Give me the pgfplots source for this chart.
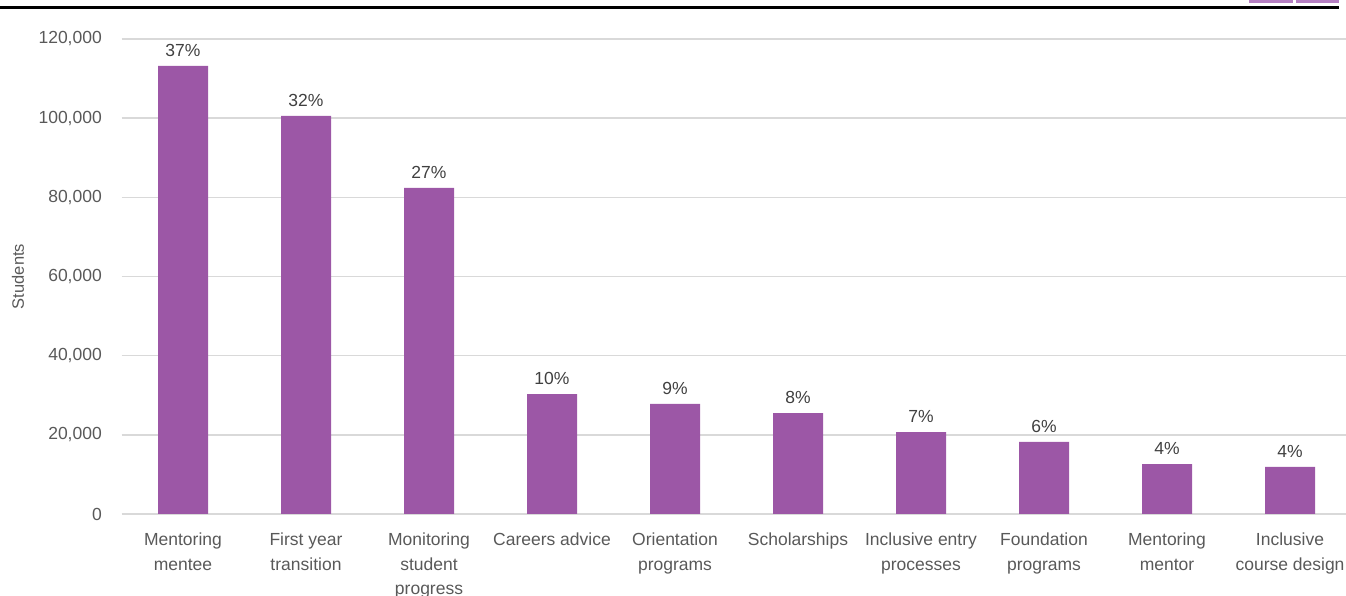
\documentclass[border=0pt]{standalone}
\usepackage{fontspec}
\setmainfont{Liberation Sans}
\usepackage{pgfplots}
\pgfplotsset{compat=1.18}
\definecolor{barpurple}{HTML}{9C57A6}
\definecolor{tabpurple}{HTML}{B57FC2}
\definecolor{ticktext}{HTML}{595959}
\definecolor{valtext}{HTML}{404040}
\definecolor{gridgrey}{HTML}{D9D9D9}

\begin{document}
\begin{tikzpicture}[x=1pt,y=1pt]
\useasboundingbox (0,0) rectangle (1346,596);
% frame line and tabs along the top edge
\fill[black] (0,587) rectangle (1339,590);
\fill[tabpurple] (1249,593) rectangle (1293,596);
\fill[tabpurple] (1296,593) rectangle (1339,596);

\begin{axis}[
	at={(121.5pt,82pt)}, anchor=south west,
	scale only axis,
	width=1230pt, height=475pt,
	ybar, bar width=50pt,
	xmin=-0.5, xmax=9.5,
	ymin=0, ymax=120000,
	ytick={0,20000,40000,60000,80000,100000,120000},
	yticklabels={0,{20,000},{40,000},{60,000},{80,000},{100,000},{120,000}},
	xtick={0,...,9},
	xticklabels={Mentoring\\mentee, First year\\transition, Monitoring\\student\\progress,
		Careers advice, Orientation\\programs, Scholarships, Inclusive entry\\processes,
		Foundation\\programs, Mentoring\\mentor, Inclusive\\course design},
	axis line style={draw=none},
	major tick length=0pt,
	ymajorgrids,
	grid style={draw=gridgrey, line width=1.5pt},
	scaled y ticks=false,
	yticklabel style={font=\fontsize{17.5}{21}\selectfont, text=ticktext,
		anchor=east, inner sep=0pt, xshift=-19.5pt},
	xticklabel style={font=\fontsize{17.5}{24.7}\selectfont, text=ticktext,
		align=center, anchor=north, inner sep=0pt, yshift=-18.7pt},
	ylabel={Students},
	ylabel style={font=\fontsize{16.5}{20}\selectfont, text=ticktext,
		at={(axis description cs:-0.08415,0.5)}, anchor=center},
	nodes near coords={\pgfplotspointmeta\%},
	point meta=explicit symbolic,
	every node near coord/.append style={font=\fontsize{17.5}{21}\selectfont,
		text=valtext, anchor=south, inner sep=0pt, yshift=9pt},
]
\addplot[fill=barpurple, draw=none] coordinates {
	(0,113200) [37]
	(1,100600) [32]
	(2,82400)  [27]
	(3,30300)  [10]
	(4,27800)  [9]
	(5,25500)  [8]
	(6,20700)  [7]
	(7,18200)  [6]
	(8,12600)  [4]
	(9,11900)  [4]
};
\end{axis}
\end{tikzpicture}
\end{document}
